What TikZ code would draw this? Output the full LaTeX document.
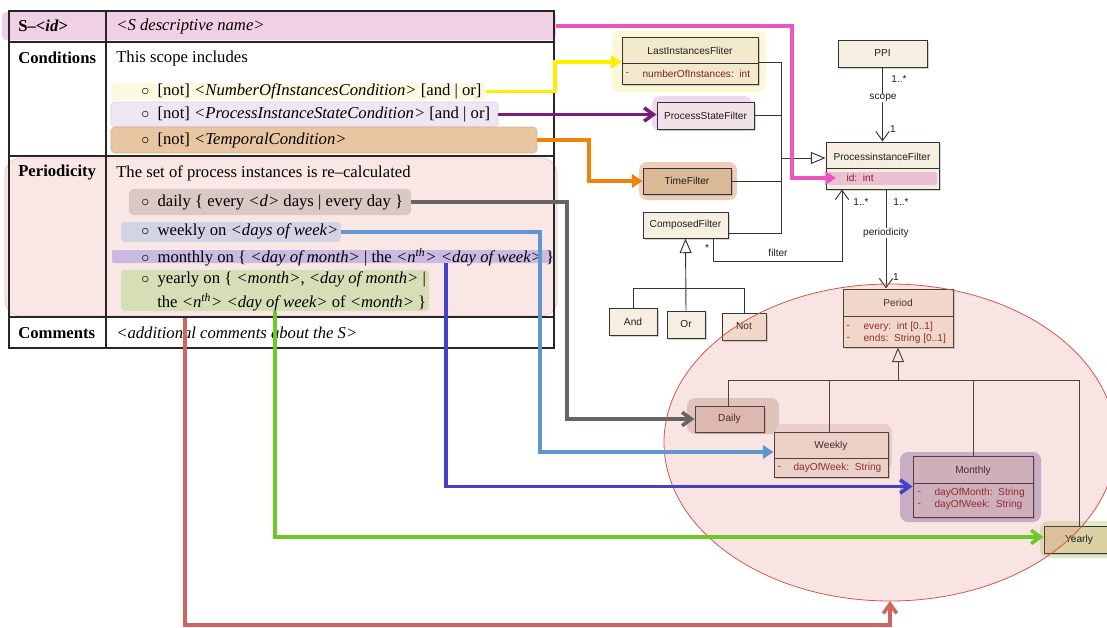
\documentclass[tikz,border=0pt]{standalone}
\usepackage{fontspec}
\setmainfont{Liberation Serif}
\newfontfamily\umlfont{Liberation Sans}
\usetikzlibrary{arrows.meta,positioning,fit,shadows,calc}

\definecolor{hdrpink}{RGB}{240,208,228}
\definecolor{perfill}{RGB}{249,231,229}
\definecolor{perline}{RGB}{242,190,186}
\definecolor{cyel}{RGB}{252,250,222}
\definecolor{clav}{RGB}{238,230,242}
\definecolor{clavd}{RGB}{222,205,225}
\definecolor{ctan}{RGB}{232,198,162}
\definecolor{ctand}{RGB}{218,178,142}
\definecolor{cday}{RGB}{218,200,196}
\definecolor{cwk}{RGB}{210,212,228}
\definecolor{cmon}{RGB}{202,186,226}
\definecolor{cyr}{RGB}{214,222,182}
\definecolor{clsfill}{RGB}{246,238,224}
\definecolor{lastfill}{RGB}{242,233,205}
\definecolor{psffill}{RGB}{240,226,232}
\definecolor{timefill}{RGB}{218,186,150}
\definecolor{dailyfill}{RGB}{220,200,192}
\definecolor{weekfill}{RGB}{240,228,218}
\definecolor{monfill}{RGB}{205,188,205}
\definecolor{yearfill}{RGB}{218,210,165}
\definecolor{glowyel}{RGB}{252,248,215}
\definecolor{glowpsf}{RGB}{238,218,238}
\definecolor{glowtime}{RGB}{238,205,185}
\definecolor{glowday}{RGB}{226,212,208}
\definecolor{glowwk}{RGB}{236,226,230}
\definecolor{glowmon}{RGB}{198,186,218}
\definecolor{glowyr}{RGB}{222,236,200}
\definecolor{idpink}{RGB}{236,192,212}
\definecolor{umlink}{RGB}{30,30,30}
\definecolor{attrred}{RGB}{125,30,40}
\definecolor{ovlred}{RGB}{220,120,110}
\definecolor{ovlline}{RGB}{215,85,80}
\definecolor{pinkc}{RGB}{236,84,190}
\definecolor{yellowc}{RGB}{255,238,0}
\definecolor{purplec}{RGB}{125,28,125}
\definecolor{orangec}{RGB}{240,130,10}
\definecolor{greyc}{RGB}{105,100,100}
\definecolor{bluec}{RGB}{95,150,205}
\definecolor{indigoc}{RGB}{70,65,200}
\definecolor{greenc}{RGB}{110,200,40}
\definecolor{redc}{RGB}{210,100,95}

\tikzset{
  hl/.style={rounded corners=3pt, inner sep=0pt},
  tabtxt/.style={font=\fontsize{12.5}{15}\selectfont, anchor=west, inner sep=0pt},
  tbl/.style={line width=0.8pt, draw=black!85},
  glow/.style={rounded corners=6pt, inner sep=0pt},
  umltxt/.style={font=\umlfont\fontsize{7.6}{9}\selectfont, text=umlink, inner sep=1pt},
  cls/.style={draw=black!80, line width=0.75pt, fill=clsfill, inner sep=0pt,
    drop shadow={shadow xshift=1.6pt, shadow yshift=-1.6pt, opacity=0.35}},
  attr/.style={umltxt, text=attrred, anchor=west},
  umlline/.style={draw=black!80, line width=0.7pt},
  gen/.style={umlline, -{Triangle[length=11pt, width=9pt, fill=white]}},
  assoc/.style={umlline, -{Straight Barb[length=7pt, width=10pt]}},
  lnk/.style={line width=2.7pt},
  tipfull/.style={-{Triangle[length=8pt, width=10pt]}},
  tipopen/.style={-{Straight Barb[length=7pt, width=10pt]}},
  ovl/.style={fill=ovlred, fill opacity=0.19, draw=ovlline, line width=0.6pt}
}

\begin{document}
\begin{tikzpicture}[x=0.75pt,y=0.75pt,yscale=-1,xscale=1]
\path[use as bounding box, fill=white] (0,0) rectangle (1107,628);

%Shape: Rectangle [header band]
\node[hl, fill=hdrpink, fit={(2,12) (556,40)}] (hdr) {};
%Shape: Rectangle [periodicity band]
\node[hl, rounded corners=12pt, fill=perfill, draw=perline, line width=0.5pt, fit={(5,158) (557,316)}] (perband) {};
%Shape: Rectangle [item highlights]
\node[hl, fill=cyel, fit={(111,83) (486,100)}] (hlnum) {};
\node[hl, fill=clav, draw=clavd, line width=0.5pt, fit={(111,102) (498,127)}] (hlpsc) {};
\node[hl, fill=ctan, draw=ctand, line width=0.5pt, fit={(111,127) (537,153)}] (hltmp) {};
\node[hl, fill=cday, fit={(129,189) (411,215)}] (hlday) {};
\node[hl, fill=cwk, fit={(121,222) (341,242)}] (hlwk) {};
\node[hl, rounded corners=1pt, fill=cmon, fit={(112,250) (552,263)}] (hlmon) {};
\node[hl, fill=cyr, fit={(121,270) (429,311)}] (hlyr) {};

%Shape: Table
\draw[tbl] (9,11) rectangle (554,348);
\draw[tbl] (106,11) -- (106,348);
\draw[tbl] (9,42) -- (554,42);
\draw[tbl] (9,156) -- (554,156);
\draw[tbl] (9,317) -- (554,317);

% Text Node
\node[tabtxt] (tId) at (18,26) {\textbf{S–<\textit{id}>}};
% Text Node
\node[tabtxt] (tName) at (116,26) {\textit{<S descriptive name>}};
% Text Node
\node[tabtxt] (tCond) at (18,58) {\textbf{Conditions}};
% Text Node
\node[tabtxt] (tScope) at (116,58) {This scope includes};
% Text Node
\node[tabtxt] (tNum) at (141,91) {$\circ$\ \ [not] \textit{<NumberOfInstancesCondition>} [and | or]};
% Text Node
\node[tabtxt] (tPsc) at (141,115) {$\circ$\ \ [not] \textit{<ProcessInstanceStateCondition>} [and | or]};
% Text Node
\node[tabtxt] (tTmp) at (141,140) {$\circ$\ \ [not] \textit{<TemporalCondition>}};
% Text Node
\node[tabtxt] (tPer) at (18,173) {\textbf{Periodicity}};
% Text Node
\node[tabtxt] (tRecalc) at (116,173) {The set of process instances is re–calculated};
% Text Node
\node[tabtxt] (tDay) at (141,203) {$\circ$\ \ daily \{ every \textit{<d>} days | every day \}};
% Text Node
\node[tabtxt] (tWk) at (141,231) {$\circ$\ \ weekly on \textit{<days of week>}};
% Text Node
\node[tabtxt] (tMon) at (141,257) {$\circ$\ \ monthly on \{ \textit{<day of month>} | the \textit{<n\textsuperscript{th}>} \textit{<day of week>} \}};
% Text Node
\node[tabtxt] (tYr1) at (141,279) {$\circ$\ \ yearly on \{ \textit{<month>}, \textit{<day of month>} |};
% Text Node
\node[tabtxt] (tYr2) at (157,302) {the \textit{<n\textsuperscript{th}>} \textit{<day of week>} of \textit{<month>} \}};
% Text Node
\node[tabtxt] (tCom) at (18,333) {\textbf{Comments}};
% Text Node
\node[tabtxt] (tComTxt) at (116,333) {\textit{<additional comments about the S>}};

%Shape: glows
\node[glow, fill=glowyel, fit={(612,30) (766,92)}] (gLast) {};
\node[glow, fill=glowpsf, fit={(652,96) (752,131)}] (gPsf) {};
\node[glow, fill=glowtime, fit={(639,162) (737,200)}] (gTime) {};
\node[glow, fill=glowday, fit={(687,398) (779,434)}] (gDaily) {};
\node[glow, fill=glowwk, fit={(775,424) (892,470)}] (gWeekly) {};
\node[glow, fill=glowmon, fit={(900,452) (1041,522)}] (gMonthly) {};
\node[glow, fill=glowyr, fit={(1040,521) (1120,558)}] (gYearly) {};

%Shape: classes
\node[cls, fill=lastfill, fit={(622,37) (758,84)}] (last) {};
\node[cls, fill=psffill, fit={(657,102) (754,129)}, label={[umltxt]center:ProcessStateFilter}] (psf) {};
\node[cls, fill=timefill, fit={(643,168) (731,194)}, label={[umltxt]center:TimeFilter}] (timef) {};
\node[cls, fit={(643,212) (728,238)}, label={[umltxt]center:ComposedFilter}] (comp) {};
\node[cls, fit={(609,308) (657,335)}, label={[umltxt]center:And}] (nAnd) {};
\node[cls, fit={(667,311) (705,338)}, label={[umltxt]center:Or}] (nOr) {};
\node[cls, fit={(722,313) (766,340)}, label={[umltxt]center:Not}] (nNot) {};
\node[cls, fit={(838,40) (927,67)}, label={[umltxt]center:PPI}] (ppi) {};
\node[cls, fit={(826,142) (939,189)}] (pif) {};
\node[cls, fit={(843,289) (953,347)}] (period) {};
\node[cls, fill=dailyfill, fit={(695,406) (764,432)}, label={[umltxt]center:Daily}] (daily) {};
\node[cls, fill=weekfill, fit={(774,432) (888,477)}] (weekly) {};
\node[cls, fill=monfill, fit={(913,456) (1033,517)}] (monthly) {};
\node[cls, fill=yearfill, fit={(1044,526) (1114,553)}, label={[umltxt]center:Yearly}] (yearly) {};

%Shape: compartments
\draw[umlline] (last.west |- 0,63) -- (last.east |- 0,63);
\draw[umlline] (pif.west |- 0,168) -- (pif.east |- 0,168);
\draw[umlline] (period.west |- 0,316) -- (period.east |- 0,316);
\draw[umlline] (weekly.west |- 0,458) -- (weekly.east |- 0,458);
\draw[umlline] (monthly.west |- 0,483) -- (monthly.east |- 0,483);
\node[hl, rounded corners=1.5pt, fill=idpink, fit={(828,172) (937,185)}] (pfid) {};

% Text Node
\node[umltxt] (lastT) at (690,51) {LastInstancesFliter};
\node[attr] (lastD) at (624,74) {-};
\node[attr] (lastA) at (641,74) {numberOfInstances:\ \ int};
% Text Node
\node[umltxt] (pifT) at (882,157) {ProcessinstanceFilter};
\node[attr] (pifA) at (845,178) {id:\ \ int};
% Text Node
\node[umltxt] (perT) at (898,303) {Period};
\node[attr] (perD1) at (845,327) {-};
\node[attr] (perA1) at (862,327) {every:\ \ int [0..1]};
\node[attr] (perD2) at (845,339) {-};
\node[attr] (perA2) at (862,339) {ends:\ \ String [0..1]};
% Text Node
\node[umltxt] (wkT) at (831,446) {Weekly};
\node[attr] (wkD) at (776,468) {-};
\node[attr] (wkA) at (792,468) {dayOfWeek:\ \ String};
% Text Node
\node[umltxt] (monT) at (973,471) {Monthly};
\node[attr] (monD1) at (916,493) {-};
\node[attr] (monA1) at (933,493) {dayOfMonth:\ \ String};
\node[attr] (monD2) at (916,505) {-};
\node[attr] (monA2) at (933,505) {dayOfWeek:\ \ String};

%Shape: filter hierarchy
\coordinate (fj) at (781,158);
\draw[umlline] (last.east |- 0,62) -| (fj);
\draw[umlline] (psf.east) -| (fj);
\draw[umlline] (timef.east) -| (fj);
\draw[umlline] (comp.east |- 0,233) -| (fj);
\draw[gen] (fj) -- (pif.west |- fj);
\draw[gen] (nOr.north) -- (comp.south);
\draw[umlline] (nAnd.north) |- (nNot.north |- 0,288) -- (nNot.north);
%Shape: associations
\draw[assoc] (ppi.south) -- (pif.north);
\draw[assoc] (comp.south -| 713,0) |- (842,261) -- (pif.south -| 842,0);
\draw[assoc] (pif.south -| 886,0) -- (period.north -| 886,0);
%Shape: period hierarchy
\coordinate (pj) at (898,380);
\draw[gen] (pj) -- (period.south);
\draw[umlline] (daily.north -| 728,0) |- (yearly.north |- pj) -- (yearly.north);
\draw[umlline] (weekly.north -| 829,0) -- (pj -| 829,0);
\draw[umlline] (monthly.north) -- (monthly.north |- pj);

% Text Node
\node[umltxt] (l1) at (899,79) {1..*};
\node[umltxt, fill=white, inner sep=0.5pt] (lscope) at (883,98) {scope};
\node[umltxt] (l2) at (893,129) {1};
\node[umltxt] (l3) at (861,202) {1..*};
\node[umltxt] (l4) at (901,202) {1..*};
\node[umltxt, fill=white, inner sep=0.5pt] (lper) at (886,233) {periodicity};
\node[umltxt] (l5) at (896,277) {1};
\node[umltxt] (lstar) at (707,248) {*};
\node[umltxt] (lfilter) at (778,253) {filter};

%Shape: Ellipse
\draw[ovl] (890,442.5) ellipse [x radius=226, y radius=158.5];
\coordinate (ovbot) at (890,601);

%Shape: colour links
\coordinate (pinkend) at (836,178);
\coordinate (redst) at (185,318);
\draw[lnk, draw=pinkc, tipfull] (hdr.east) -| (792,178) -- (pinkend);
\draw[lnk, draw=yellowc, tipfull] (hlnum.east) -| (555,62) -- (last.west |- 0,62);
\draw[lnk, draw=purplec, tipopen] (hlpsc.east) -- (psf.west |- hlpsc.east);
\draw[lnk, draw=orangec, tipfull] (hltmp.east) -| (589,181) -- (timef.west);
\draw[lnk, draw=greyc, tipopen] (hlday.east) -| (567,419) -- (daily.west);
\draw[lnk, draw=bluec, tipfull] (hlwk.east) -| (540,452) -- (weekly.west |- 0,452);
\draw[lnk, draw=indigoc, tipopen] (hlmon.south -| 446,0) |- (monthly.west);
\draw[lnk, draw=greenc, tipopen] (hlyr.south -| 275,0) |- (yearly.west |- 0,537);
\draw[lnk, draw=redc, tipopen] (redst) |- (890,625) -- (ovbot);

\end{tikzpicture}
\end{document}
